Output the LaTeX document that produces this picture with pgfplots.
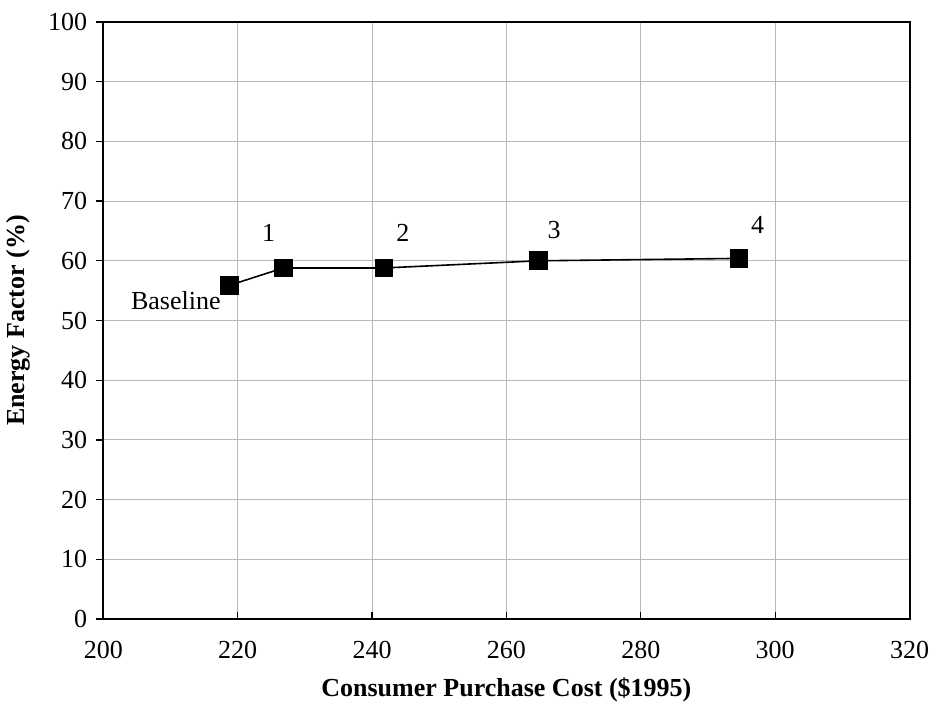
\documentclass[border=0pt]{standalone}
\usepackage{fontspec}
\setmainfont{Liberation Serif}
\usepackage{pgfplots}
\pgfplotsset{compat=1.18}
\begin{document}
\fontsize{13bp}{15bp}\selectfont
\begin{tikzpicture}
\useasboundingbox (-51.65bp,-46bp) rectangle (412.85bp,309.5bp);
\begin{axis}[
  at={(0,0)}, anchor=south west,
  scale only axis, width=403.1bp, height=298.5bp,
  xmin=200, xmax=320, ymin=0, ymax=100,
  xtick={200,220,...,320}, ytick={0,10,...,100},
  xtick pos=left, ytick pos=left,
  x tick style={black, line width=0.6bp}, y tick style={black, line width=0.6bp},
  xtick align=inside, ytick align=outside,
  major tick length=3.5bp,
  grid=major, grid style={gray!55, line width=0.5bp},
  axis line style={line width=1bp},
  /pgf/number format/assume math mode=true,
  /pgf/number format/1000 sep={},
  ticklabel style={font=\fontsize{13bp}{15bp}\selectfont},
  xticklabel style={anchor=center, yshift=-15.5bp},
  yticklabel style={anchor=east},
  xlabel={\textbf{Consumer Purchase Cost (\$1995)}},
  ylabel={\textbf{Energy Factor (\%)}},
  label style={font=\fontsize{13bp}{15bp}\selectfont},
  xlabel style={at={(axis description cs:0.5,0)}, anchor=center, yshift=-35.5bp},
  ylabel style={at={(axis description cs:-0.1057,0.5)}, anchor=center},
  clip=false,
]
\addplot[black, line width=0.8bp, mark=square*, mark size=4.25bp, mark options={solid, fill=black}]
  coordinates {(218.8,55.9) (226.8,58.8) (241.8,58.8) (264.8,60.0) (294.6,60.4)};
\node[font=\fontsize{13bp}{15bp}\selectfont] at (axis cs:210.8,53.4) {Baseline};
\node[font=\fontsize{13bp}{15bp}\selectfont] at (axis cs:224.6,64.6) {1};
\node[font=\fontsize{13bp}{15bp}\selectfont] at (axis cs:244.6,64.6) {2};
\node[font=\fontsize{13bp}{15bp}\selectfont] at (axis cs:267.1,65.2) {3};
\node[font=\fontsize{13bp}{15bp}\selectfont] at (axis cs:297.4,66.0) {4};
\end{axis}
\end{tikzpicture}
\end{document}
